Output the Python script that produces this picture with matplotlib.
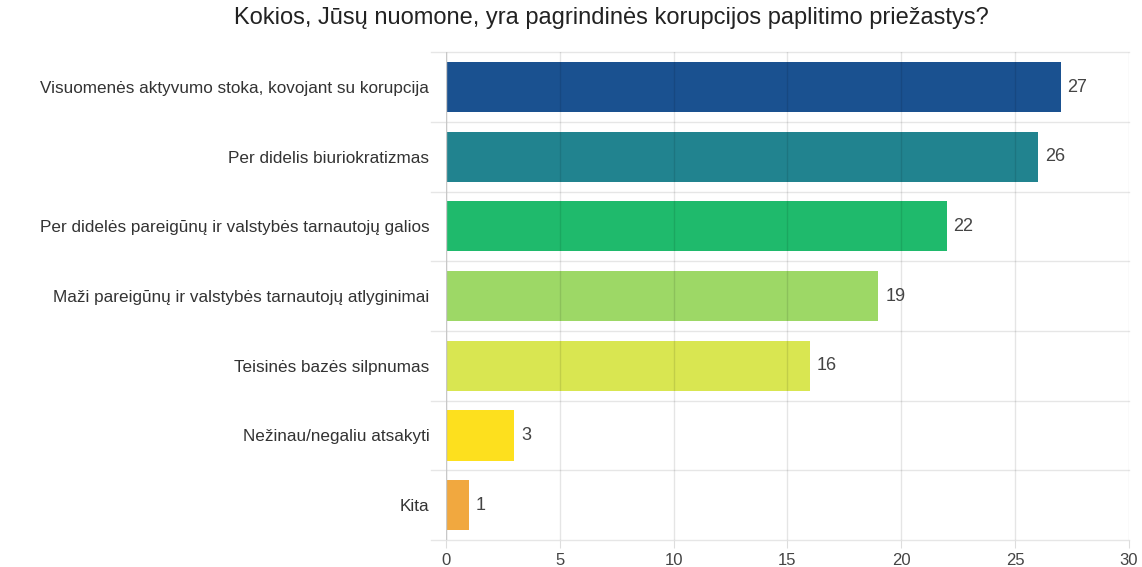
# Horizontal bar chart: causes of corruption survey.
import matplotlib.pyplot as plt

plt.rcParams['font.family'] = ['Liberation Sans', 'DejaVu Sans']

# Data.
categories = [
    "Visuomenės aktyvumo stoka, kovojant su korupcija",
    "Per didelis biuriokratizmas",
    "Per didelės pareigūnų ir valstybės tarnautojų galios",
    "Maži pareigūnų ir valstybės tarnautojų atlyginimai",
    "Teisinės bazės silpnumas",
    "Nežinau/negaliu atsakyti",
    "Kita",
]
values = [27, 26, 22, 19, 16, 3, 1]
colors = ["#1a5190", "#21838f", "#1fba6c", "#9dd866", "#d9e651", "#fde01e", "#f1a83f"]
x_ticks = [0, 5, 10, 15, 20, 25, 30]

fig = plt.figure(figsize=(11.42, 5.67), dpi=100)
ax = fig.add_axes([0.3905, 0.0476, 0.598, 0.8604])

pos = list(range(len(categories)))
ax.barh(pos, values, height=0.72, color=colors, zorder=1)

# Value labels next to bars.
for p, v in zip(pos, values):
    ax.text(v + 0.3, p, str(v), va="center", ha="left", fontsize=13, color="#444444")

ax.set_ylim(len(categories) - 0.5, -0.5)
ax.set_xlim(0, 30)
ax.set_xticks(x_ticks)
ax.set_yticks(pos)
ax.set_yticklabels(categories, fontsize=12.3, color="#333333")
ax.tick_params(axis="x", labelsize=12, colors="#444444", length=6, color="#dddddd")
ax.tick_params(axis="y", length=0, pad=12)

# Grid: vertical at ticks, horizontal between categories.
for x in x_ticks:
    ax.axvline(x, color="#000000", alpha=0.1, lw=1, zorder=2)
for b in range(len(categories) + 1):
    ax.plot([-0.65, 30], [b - 0.5, b - 0.5], color="#e6e6e6", lw=1,
            clip_on=False, zorder=0)
ax.axvline(0, color="#c8c8c8", lw=1, zorder=3)

for s in ax.spines.values():
    s.set_visible(False)

fig.suptitle("Kokios, Jūsų nuomone, yra pagrindinės korupcijos paplitimo priežastys?",
             x=0.535, y=0.988, fontsize=17, color="#222222")

plt.savefig("out.png", dpi=100)
